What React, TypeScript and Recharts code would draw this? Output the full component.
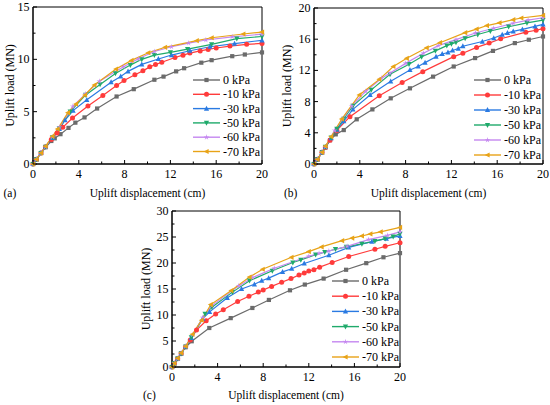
import { LineChart, Line, XAxis, YAxis, ReferenceArea, Legend } from 'recharts';

const FONT = "'Liberation Serif', 'Times New Roman', serif";

// series names, colours and marker shapes (same order in all three panels)
const pressures = ['0 kPa', '-10 kPa', '-30 kPa', '-50 kPa', '-60 kPa', '-70 kPa'];
const colors = ['#6b6b6b', '#ff3b3b', '#2a7ae2', '#1faa6b', '#c587f0', '#e8a317'];
const shapes = ['square', 'circle', 'up', 'down', 'star', 'left'];

// tick lists (minor ticks included, labels only on majors)
const xTicks = [0, 2, 4, 6, 8, 10, 12, 14, 16, 18, 20];
const yTicksA = [0, 2.5, 5, 7.5, 10, 12.5, 15];
const yTicksB = [0, 2, 4, 6, 8, 10, 12, 14, 16, 18, 20];
const yTicksC = [0, 2.5, 5, 7.5, 10, 12.5, 15, 17.5, 20, 22.5, 25, 27.5, 30];

// panel (a): [displacement cm, load MN]
const a0 = [[0, 0], [0.3, 0.45], [0.7, 1.05], [1.1, 1.6], [1.6, 2.2], [1.9, 2.45], [2.4, 2.85], [3.1, 3.45], [3.7, 3.95], [4.5, 4.45], [5.6, 5.3], [7.3, 6.45], [8.8, 7.15], [10.6, 8.05], [11.4, 8.35], [12.5, 8.85], [13.2, 9.15], [14.7, 9.68], [15.6, 9.92], [17.4, 10.3], [18.5, 10.46], [20, 10.66]];
const a10 = [[0, 0], [0.3, 0.45], [0.7, 1.05], [1.1, 1.65], [1.6, 2.35], [2.1, 2.95], [2.6, 3.5], [3.45, 4.4], [4.8, 5.55], [6.1, 6.55], [7.3, 7.5], [7.95, 7.98], [8.9, 8.52], [9.6, 8.9], [10.2, 9.28], [10.7, 9.5], [11.25, 9.72], [12.4, 10.18], [13.1, 10.4], [13.7, 10.6], [14.6, 10.8], [15.3, 10.95], [16.0, 11.08], [17.2, 11.27], [18.66, 11.43], [20, 11.52]];
const a30 = [[0, 0], [0.3, 0.45], [0.7, 1.05], [1.1, 1.65], [1.7, 2.5], [2.3, 3.35], [2.8, 4.2], [3.5, 5.1], [4.7, 6.13], [6.82, 7.82], [7.66, 8.36], [8.3, 8.85], [9.5, 9.52], [10.95, 10.03], [12.1, 10.41], [13.7, 10.82], [15.46, 11.2], [17.6, 11.5], [20, 11.82]];
const a50 = [[0, 0], [0.3, 0.45], [0.7, 1.05], [1.1, 1.65], [1.7, 2.55], [2.3, 3.4], [3.25, 5.0], [4.6, 6.6], [5.86, 7.6], [7.2, 8.65], [8.5, 9.45], [9.5, 10.0], [10.6, 10.4], [12.0, 10.67], [13.5, 10.98], [15.6, 11.43], [17.8, 11.98], [20, 12.18]];
const a60 = [[0, 0], [0.3, 0.45], [0.7, 1.05], [1.1, 1.65], [1.7, 2.6], [2.3, 3.5], [3.48, 5.5], [4.6, 6.7], [5.8, 7.9], [7.9, 9.3], [9.2, 10.05], [10.6, 10.75], [12.1, 11.2], [13.6, 11.55], [15.1, 11.85], [17.4, 12.15], [20, 12.4]];
const a70 = [[0, 0], [0.3, 0.45], [0.7, 1.05], [1.1, 1.7], [1.7, 2.65], [2.15, 3.34], [3.05, 4.9], [3.76, 5.73], [4.54, 6.59], [5.36, 7.55], [7.25, 9.07], [8.6, 9.9], [10.07, 10.63], [11.53, 11.15], [14.3, 11.78], [15.6, 12.06], [18.37, 12.42], [20, 12.6]];

// panel (b)
const b0 = [[0, 0], [0.3, 0.6], [0.7, 1.5], [1.0, 2.1], [1.4, 3.05], [1.9, 3.8], [2.6, 4.35], [3.73, 5.73], [5.1, 7.0], [6.7, 8.42], [8.38, 9.7], [10.4, 11.2], [12.2, 12.5], [14.07, 13.58], [15.63, 14.5], [17.54, 15.5], [18.76, 15.93], [20, 16.35]];
const b10 = [[0, 0], [0.3, 0.6], [0.7, 1.5], [1.0, 2.15], [1.4, 3.05], [2.0, 4.3], [3.14, 6.07], [5.7, 8.76], [7.7, 10.45], [9.5, 11.84], [12.2, 13.76], [13.0, 14.2], [14.2, 14.95], [15.3, 15.5], [16.3, 16.06], [18.5, 16.9], [19.4, 17.15], [20, 17.35]];
const b30 = [[0, 0], [0.3, 0.6], [0.7, 1.5], [1.0, 2.2], [1.5, 3.3], [2.0, 4.4], [2.6, 5.5], [3.4, 7.0], [4.9, 8.85], [6.7, 10.6], [8.38, 12.05], [9.1, 12.5], [9.7, 13.0], [10.66, 13.75], [11.2, 14.1], [11.7, 14.3], [12.1, 14.55], [12.6, 14.8], [13.0, 15.1], [14.7, 15.7], [15.7, 16.15], [16.44, 16.57], [16.9, 16.8], [17.4, 17.0], [18.2, 17.25], [19.3, 17.65], [20, 17.9]];
const b50 = [[0, 0], [0.3, 0.6], [0.7, 1.5], [1.0, 2.2], [1.5, 3.4], [2.0, 4.5], [2.6, 5.8], [3.4, 7.45], [5.0, 9.5], [6.64, 11.5], [8.3, 12.8], [9.4, 13.75], [10.6, 14.5], [11.6, 15.17], [12.0, 15.4], [12.4, 15.6], [13.2, 16.1], [14.3, 16.6], [15.4, 17.05], [17.0, 17.6], [18.6, 18.1], [20, 18.45]];
const b60 = [[0, 0], [0.3, 0.6], [0.7, 1.5], [1.0, 2.2], [1.8, 4.3], [2.5, 5.8], [3.3, 7.44], [4.5, 9.3], [5.9, 11.0], [6.64, 11.65], [8.0, 12.9], [9.55, 14.2], [10.86, 15.17], [12.4, 15.95], [14.1, 16.8], [15.7, 17.4], [17.4, 18.05], [18.7, 18.45], [20, 18.75]];
const b70 = [[0, 0], [0.3, 0.6], [0.7, 1.5], [1.0, 2.3], [1.5, 3.5], [2.42, 5.77], [3.96, 8.85], [5.7, 10.85], [6.93, 12.5], [8.1, 13.55], [9.84, 14.9], [11.0, 15.55], [13.2, 16.84], [14.2, 17.3], [15.1, 17.75], [16.2, 18.1], [17.4, 18.5], [18.1, 18.72], [20, 19.05]];

// panel (c)
const c0 = [[0, 0], [0.2, 0.7], [0.5, 1.6], [0.8, 2.6], [1.2, 3.8], [1.73, 4.95], [3.27, 7.5], [5.15, 9.4], [7.05, 11.35], [8.5, 12.9], [10.35, 14.75], [11.65, 15.85], [13.3, 17.0], [15.27, 18.7], [17.04, 19.97], [18.55, 21.1], [20, 21.9]];
const c10 = [[0, 0], [0.2, 0.7], [0.5, 1.6], [0.8, 2.6], [1.2, 3.9], [1.6, 5.2], [2.15, 7.1], [3.0, 8.9], [3.83, 10.2], [4.5, 11.0], [5.76, 12.6], [6.75, 13.6], [7.57, 14.4], [8.0, 14.8], [8.74, 15.5], [9.62, 16.3], [10.44, 17.0], [11.14, 17.7], [11.6, 18.1], [12.0, 18.44], [12.45, 18.7], [12.95, 19.2], [14.05, 20.1], [15.5, 21.25], [17.8, 22.65], [18.7, 23.2], [20, 23.9]];
const c30 = [[0, 0], [0.2, 0.7], [0.5, 1.6], [0.8, 2.6], [1.2, 3.9], [1.7, 5.6], [2.7, 9.3], [3.3, 10.6], [4.85, 13.3], [6.1, 15.0], [7.23, 15.9], [7.87, 16.6], [8.48, 17.1], [9.7, 18.3], [10.5, 18.9], [11.6, 19.9], [13.76, 21.5], [15.5, 23.0], [17.53, 24.1], [18.8, 24.7], [20, 25.2]];
const c50 = [[0, 0], [0.2, 0.7], [0.5, 1.6], [0.8, 2.6], [1.2, 3.9], [1.7, 5.7], [2.9, 10.2], [3.5, 11.5], [5.3, 14.4], [6.8, 16.6], [8.8, 18.5], [10.6, 20.1], [11.3, 20.6], [12.6, 21.6], [13.4, 22.1], [14.34, 22.65], [15.3, 23.1], [16.66, 23.7], [17.8, 24.2], [18.7, 24.7], [19.4, 25.1], [20, 25.6]];
const c60 = [[0, 0], [0.2, 0.7], [0.5, 1.6], [0.8, 2.7], [1.2, 4.0], [1.8, 6.2], [2.7, 9.5], [3.5, 11.8], [5.86, 15.6], [7.08, 17.2], [8.97, 19.0], [12.0, 21.3], [12.9, 21.85], [13.76, 22.3], [15.36, 23.2], [17.24, 24.5], [18.9, 25.3], [20, 26.0]];
const c70 = [[0, 0], [0.2, 0.7], [0.5, 1.7], [0.8, 2.7], [1.2, 4.0], [1.8, 6.3], [2.6, 9.0], [3.4, 12.0], [5.2, 14.7], [6.8, 17.3], [7.95, 18.8], [10.48, 21.1], [12.0, 22.2], [13.12, 23.1], [14.92, 24.3], [15.8, 24.8], [16.66, 25.2], [17.4, 25.6], [18.3, 26.0], [20, 26.85]];

const toRows = (pts: number[][]) => pts.map(([x, y]) => ({ x, y }));

const PANELS = [
  {
    id: 'a', letter: '(a)', left: 0, top: 0, width: 275, height: 200,
    mt: 7, mr: 13, yw: 33, xh: 36, yMax: 15, yTicks: yTicksA, yMajor: 5,
    yTitleX: 10, titleDy: 33, letterDx: -29.5,
    legend: { left: 190, top: 72, gap: 14.3 },
    series: [a0, a10, a30, a50, a60, a70],
  },
  {
    id: 'b', letter: '(b)', left: 275, top: 0, width: 275, height: 200,
    mt: 8, mr: 7, yw: 39, xh: 36, yMax: 20, yTicks: yTicksB, yMajor: 4,
    yTitleX: 12, titleDy: 33, letterDx: -30,
    legend: { left: 196, top: 72, gap: 15 },
    series: [b0, b10, b30, b50, b60, b70],
  },
  {
    id: 'c', letter: '(c)', left: 130, top: 200, width: 290, height: 205,
    mt: 11, mr: 20, yw: 42, xh: 38, yMax: 30, yTicks: yTicksC, yMajor: 5,
    yTitleX: 16, titleDy: 32, letterDx: -29,
    legend: { left: 199, top: 73, gap: 15.2 },
    series: [c0, c10, c30, c50, c60, c70],
  },
];

function Marker({ shape, cx, cy, color }: any) {
  if (cx == null || cy == null) return null;
  const s = 2.1;
  switch (shape) {
    case 'square':
      return <rect x={cx - s} y={cy - s} width={2 * s} height={2 * s} fill={color} />;
    case 'circle':
      return <circle cx={cx} cy={cy} r={s + 0.4} fill={color} />;
    case 'up':
      return <polygon points={`${cx},${cy - s - 0.8} ${cx - s - 0.5},${cy + s} ${cx + s + 0.5},${cy + s}`} fill={color} />;
    case 'down':
      return <polygon points={`${cx},${cy + s + 0.8} ${cx - s - 0.5},${cy - s} ${cx + s + 0.5},${cy - s}`} fill={color} />;
    case 'left':
      return <polygon points={`${cx - s - 0.8},${cy} ${cx + s},${cy - s - 0.5} ${cx + s},${cy + s + 0.5}`} fill={color} />;
    default: {
      const pts = [];
      for (let i = 0; i < 10; i++) {
        const r = i % 2 === 0 ? s + 1 : s * 0.45;
        const a = -Math.PI / 2 + (i * Math.PI) / 5;
        pts.push(`${cx + r * Math.cos(a)},${cy + r * Math.sin(a)}`);
      }
      return <polygon points={pts.join(' ')} fill={color} />;
    }
  }
}

function XTick({ x, y, payload }: any) {
  const major = payload.value % 4 === 0;
  return (
    <g>
      <line x1={x} y1={y} x2={x} y2={y - (major ? 4 : 2.5)} stroke="#000" />
      {major && (
        <text x={x} y={y + 13.5} textAnchor="middle" fontSize={12} fontFamily={FONT} fill="#000">
          {payload.value}
        </text>
      )}
    </g>
  );
}

function YTick({ x, y, payload, major }: any) {
  const isMajor = payload.value % major === 0;
  return (
    <g>
      <line x1={x} y1={y} x2={x + (isMajor ? 4 : 2.5)} y2={y} stroke="#000" />
      {isMajor && (
        <text x={x - 3.5} y={y + 4} textAnchor="end" fontSize={12} fontFamily={FONT} fill="#000">
          {payload.value}
        </text>
      )}
    </g>
  );
}

function XTitle({ viewBox, letter, dy, letterDx }: any) {
  const { x, y, width } = viewBox;
  return (
    <g fontFamily={FONT} fontSize={11.5} fill="#000">
      <text x={x + width / 2} y={y + dy} textAnchor="middle">Uplift displacement (cm)</text>
      <text x={x + letterDx} y={y + dy}>{letter}</text>
    </g>
  );
}

function YTitle({ viewBox, cx }: any) {
  const cy = viewBox.y + viewBox.height / 2;
  return (
    <text
      x={cx}
      y={cy}
      transform={`rotate(-90, ${cx}, ${cy})`}
      textAnchor="middle"
      dominantBaseline="central"
      fontFamily={FONT}
      fontSize={12}
      fill="#000"
    >
      Uplift load (MN)
    </text>
  );
}

function LegendBox({ gap }: any) {
  return (
    <svg width={90} height={gap * 6 + 6} style={{ display: 'block' }}>
      {pressures.map((name, i) => {
        const cy = 8 + i * gap;
        return (
          <g key={name}>
            <line x1={3} y1={cy} x2={30} y2={cy} stroke={colors[i]} strokeWidth={1.4} />
            <Marker shape={shapes[i]} cx={16.5} cy={cy} color={colors[i]} />
            <text x={33} y={cy + 4} fontSize={12} fontFamily={FONT} fill="#000">{name}</text>
          </g>
        );
      })}
    </svg>
  );
}

function Panel({ p }: any) {
  return (
    <div style={{ position: 'absolute', left: p.left, top: p.top }}>
      <LineChart width={p.width} height={p.height} margin={{ top: p.mt, right: p.mr, bottom: 0, left: 0 }}>
        <XAxis
          type="number"
          dataKey="x"
          domain={[0, 20]}
          ticks={xTicks}
          interval={0}
          height={p.xh}
          tickSize={0}
          tickMargin={0}
          tick={(t: any) => <XTick {...t} />}
          axisLine={{ stroke: '#000' }}
          label={<XTitle letter={p.letter} dy={p.titleDy} letterDx={p.letterDx} />}
        />
        <YAxis
          type="number"
          domain={[0, p.yMax]}
          ticks={p.yTicks}
          interval={0}
          width={p.yw}
          tickSize={0}
          tickMargin={0}
          tick={(t: any) => <YTick {...t} major={p.yMajor} />}
          axisLine={{ stroke: '#000' }}
          label={<YTitle cx={p.yTitleX} />}
        />
        <ReferenceArea x1={0} x2={20} y1={0} y2={p.yMax} fill="none" stroke="#000" strokeWidth={1} />
        {p.series.map((pts: number[][], i: number) => (
          <Line
            key={`${p.id}-${i}`}
            data={toRows(pts)}
            dataKey="y"
            name={pressures[i]}
            type="linear"
            stroke={colors[i]}
            strokeWidth={1.2}
            isAnimationActive={false}
            activeDot={false}
            dot={(d: any) => (
              <Marker key={`${p.id}-${i}-${d.index}`} shape={shapes[i]} cx={d.cx} cy={d.cy} color={colors[i]} />
            )}
          />
        ))}
        <Legend
          layout="horizontal"
          verticalAlign="middle"
          align="center"
          wrapperStyle={{ left: p.legend.left, top: p.legend.top, width: 90, margin: 0 }}
          content={() => <LegendBox gap={p.legend.gap} />}
        />
      </LineChart>
    </div>
  );
}

export default function App() {
  return (
    <div style={{ position: 'absolute', left: 0, top: 0, width: 550, height: 405, background: '#fff' }}>
      {PANELS.map((p) => (
        <Panel key={p.id} p={p} />
      ))}
    </div>
  );
}
